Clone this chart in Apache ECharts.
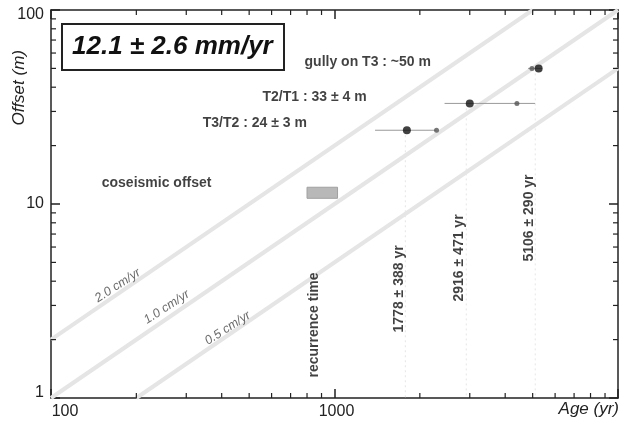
<!DOCTYPE html>
<html><head><meta charset="utf-8">
<script src="https://cdn.jsdelivr.net/npm/echarts@6/dist/echarts.min.js"></script>
<style>html,body{margin:0;padding:0;background:#fff}#c{width:621px;height:424px}</style>
</head><body><div id="c"></div>
<script>
// ---- data ----
const xRange = [100, 10000];
const yRange = [1, 100];
const minorX = [200,300,400,500,600,700,800,900,2000,3000,4000,5000,6000,7000,8000,9000];
const minorY = [2,3,4,5,6,7,8,9,20,30,40,50,60,70,80,90];
const rate20 = [[100, 2], [5000, 100]];
const rate10 = [[100, 1], [10000, 100]];
const rate05 = [[200, 1], [10000, 50]];
const rateLabels = ['2.0 cm/yr', '1.0 cm/yr', '0.5 cm/yr'];
const offsetLabels = ['T3/T2 : 24 ± 3 m', 'T2/T1 : 33 ± 4 m', 'gully on T3 : ~50 m'];
const ageLabels = ['1778 ± 388 yr', '2916 ± 471 yr', '5106 ± 290 yr'];
const mainPoints = [[1800, 24], [3000, 33], [5250, 50]];
const secondPoints = [[2290, 24], [4400, 33], [4970, 50]];
const errorBars = [[1390, 2290, 24], [2445, 5100, 33], [4816, 5396, 50]];
const ageGuides = [[1778, 24], [2916, 33], [5106, 50]];
const coseismicBox = [[800, 1025, 10.7, 12.2]];
const rateText = '12.1 ± 2.6 mm/yr';
const coseismicText = 'coseismic offset';
const recurrenceText = 'recurrence time';

// ---- chart ----
const FONT = 'Liberation Sans';
const chart = echarts.init(document.getElementById('c'), null, {renderer: 'canvas'});

const tickData = [];
minorX.forEach(v => { tickData.push([v, yRange[0], 0]); tickData.push([v, yRange[1], 1]); });
minorY.forEach(v => { tickData.push([xRange[0], v, 2]); tickData.push([xRange[1], v, 3]); });

const lblBold = {fontFamily: FONT, fontWeight: 'bold', fontSize: 14, color: '#111'};
const lblRate = {fontFamily: FONT, fontStyle: 'italic', fontSize: 12.5, color: '#444'};
const annotations = [
  {value: [172, 3.8], label: Object.assign({show: true, position: 'inside', rotate: 33, formatter: rateLabels[0]}, lblRate)},
  {value: [256, 2.94], label: Object.assign({show: true, position: 'inside', rotate: 33, formatter: rateLabels[1]}, lblRate)},
  {value: [420, 2.29], label: Object.assign({show: true, position: 'inside', rotate: 33, formatter: rateLabels[2]}, lblRate)},
  {value: [851, 2.38], label: Object.assign({show: true, position: 'inside', rotate: 90, formatter: recurrenceText}, lblBold)},
  {value: [1695, 3.65], label: Object.assign({show: true, position: 'inside', rotate: 90, formatter: ageLabels[0]}, lblBold)},
  {value: [2754, 5.27], label: Object.assign({show: true, position: 'inside', rotate: 90, formatter: ageLabels[1]}, lblBold)},
  {value: [4865, 8.47], label: Object.assign({show: true, position: 'inside', rotate: 90, formatter: ageLabels[2]}, lblBold)},
  {value: [784, 54], label: Object.assign({show: true, position: 'right', distance: 0, formatter: offsetLabels[2]}, lblBold)},
  {value: [557, 35.6], label: Object.assign({show: true, position: 'right', distance: 0, formatter: offsetLabels[1]}, lblBold)},
  {value: [343, 26.2], label: Object.assign({show: true, position: 'right', distance: 0, formatter: offsetLabels[0]}, lblBold)},
  {value: [151, 12.8], label: Object.assign({show: true, position: 'right', distance: 0, formatter: coseismicText}, lblBold)}
];

function rateLine(d) {
  return {type: 'line', data: d, symbol: 'none', silent: true, z: 1,
    lineStyle: {color: '#e5e5e5', width: 4}};
}

const axisLineStyle = {lineStyle: {color: '#222', width: 1.5}};
const option = {
  animation: false,
  backgroundColor: '#fff',
  title: {
    text: rateText, left: 62, top: 24, padding: [8, 12, 8, 10],
    borderColor: '#222', borderWidth: 2,
    textStyle: {fontFamily: FONT, fontSize: 26, fontWeight: 'bold', fontStyle: 'italic', color: '#111', lineHeight: 30}
  },
  grid: {left: 51, right: 2, top: 10, bottom: 26, containLabel: false},
  xAxis: [
    {type: 'log', logBase: 10, min: xRange[0], max: xRange[1], position: 'bottom',
     axisLine: axisLineStyle, axisTick: {inside: true, length: 9, lineStyle: {color: '#222', width: 1.5}},
     splitLine: {show: false}, showMaxLabel: false,
     axisLabel: {fontFamily: FONT, fontSize: 16, color: '#222', margin: 6,
       formatter: v => v === xRange[0] ? '{a|' + v + '}' : (v >= xRange[1] ? '' : '{b|' + v + '}'),
       rich: {a: {fontFamily: FONT, fontSize: 16, color: '#222', padding: [0, 0, 0, 28]},
              b: {fontFamily: FONT, fontSize: 16, color: '#222', padding: [0, 0, 0, 4]}}}},
    {type: 'log', logBase: 10, min: xRange[0], max: xRange[1], position: 'top',
     axisLine: axisLineStyle, axisTick: {inside: true, length: 9, lineStyle: {color: '#222', width: 1.5}},
     splitLine: {show: false}, axisLabel: {show: false}}
  ],
  yAxis: [
    {type: 'log', logBase: 10, min: yRange[0], max: yRange[1], position: 'left',
     axisLine: axisLineStyle, axisTick: {inside: true, length: 9, lineStyle: {color: '#222', width: 1.5}},
     splitLine: {show: false},
     axisLabel: {fontFamily: FONT, fontSize: 16, color: '#222', margin: 7,
       formatter: v => v === yRange[1] ? '{t|' + v + '}' : (v === yRange[0] ? '{u|' + v + '}' : '{m|' + v + '}'),
       rich: {t: {fontFamily: FONT, fontSize: 16, color: '#222', padding: [10, 0, 0, 0]},
              u: {fontFamily: FONT, fontSize: 16, color: '#222', padding: [0, 0, 10, 0]},
              m: {fontFamily: FONT, fontSize: 16, color: '#222'}}}},
    {type: 'log', logBase: 10, min: yRange[0], max: yRange[1], position: 'right',
     axisLine: axisLineStyle, axisTick: {inside: true, length: 9, lineStyle: {color: '#222', width: 1.5}},
     splitLine: {show: false}, axisLabel: {show: false}}
  ],
  graphic: [
    {type: 'text', left: 11, top: 50, rotation: Math.PI / 2, originX: 0, originY: 0,
     style: {text: 'Offset (m)', fontFamily: FONT, fontStyle: 'italic', fontSize: 17, fill: '#222'}},
    {type: 'text', right: 2, top: 401,
     style: {text: 'Age (yr)', fontFamily: FONT, fontStyle: 'italic', fontSize: 17, fill: '#222'}}
  ],
  series: [
    rateLine(rate20), rateLine(rate10), rateLine(rate05),
    {type: 'custom', data: ageGuides, silent: true, z: 2, clip: true,
     renderItem: (p, api) => {
       const a = api.coord([api.value(0), api.value(1)]);
       const b = api.coord([api.value(0), yRange[0]]);
       return {type: 'line', shape: {x1: a[0], y1: a[1], x2: b[0], y2: b[1]},
         style: {stroke: '#e6e6e6', lineWidth: 1, lineDash: [2, 3]}};
     }},
    {type: 'custom', data: coseismicBox, silent: true, z: 3,
     renderItem: (p, api) => {
       const a = api.coord([api.value(0), api.value(3)]);
       const b = api.coord([api.value(1), api.value(2)]);
       return {type: 'rect', shape: {x: a[0], y: a[1], width: b[0] - a[0], height: b[1] - a[1]},
         style: {fill: '#b8b8b8', stroke: '#a0a0a0', lineWidth: 1}};
     }},
    {type: 'custom', data: errorBars, silent: true, z: 3,
     renderItem: (p, api) => {
       const a = api.coord([api.value(0), api.value(2)]);
       const b = api.coord([api.value(1), api.value(2)]);
       return {type: 'line', shape: {x1: a[0], y1: a[1], x2: b[0], y2: b[1]},
         style: {stroke: '#999', lineWidth: 1}};
     }},
    {type: 'scatter', data: secondPoints, symbol: 'circle', symbolSize: 5, silent: true, z: 4,
     itemStyle: {color: '#555'}},
    {type: 'scatter', data: mainPoints, symbol: 'circle', symbolSize: 8, silent: true, z: 5,
     itemStyle: {color: '#111'}},
    {type: 'custom', data: tickData, silent: true, z: 6, clip: false,
     renderItem: (p, api) => {
       const c = api.coord([api.value(0), api.value(1)]);
       const s = api.value(2), L = 5;
       let sh;
       if (s === 0) sh = {x1: c[0], y1: c[1], x2: c[0], y2: c[1] - L};
       else if (s === 1) sh = {x1: c[0], y1: c[1], x2: c[0], y2: c[1] + L};
       else if (s === 2) sh = {x1: c[0], y1: c[1], x2: c[0] + L, y2: c[1]};
       else sh = {x1: c[0], y1: c[1], x2: c[0] - L, y2: c[1]};
       return {type: 'line', shape: sh, style: {stroke: '#222', lineWidth: 1.2}};
     }},
    {type: 'scatter', data: annotations, symbolSize: 0, silent: true, z: 7, clip: false}
  ]
};
chart.setOption(option);
</script>
</body></html>
